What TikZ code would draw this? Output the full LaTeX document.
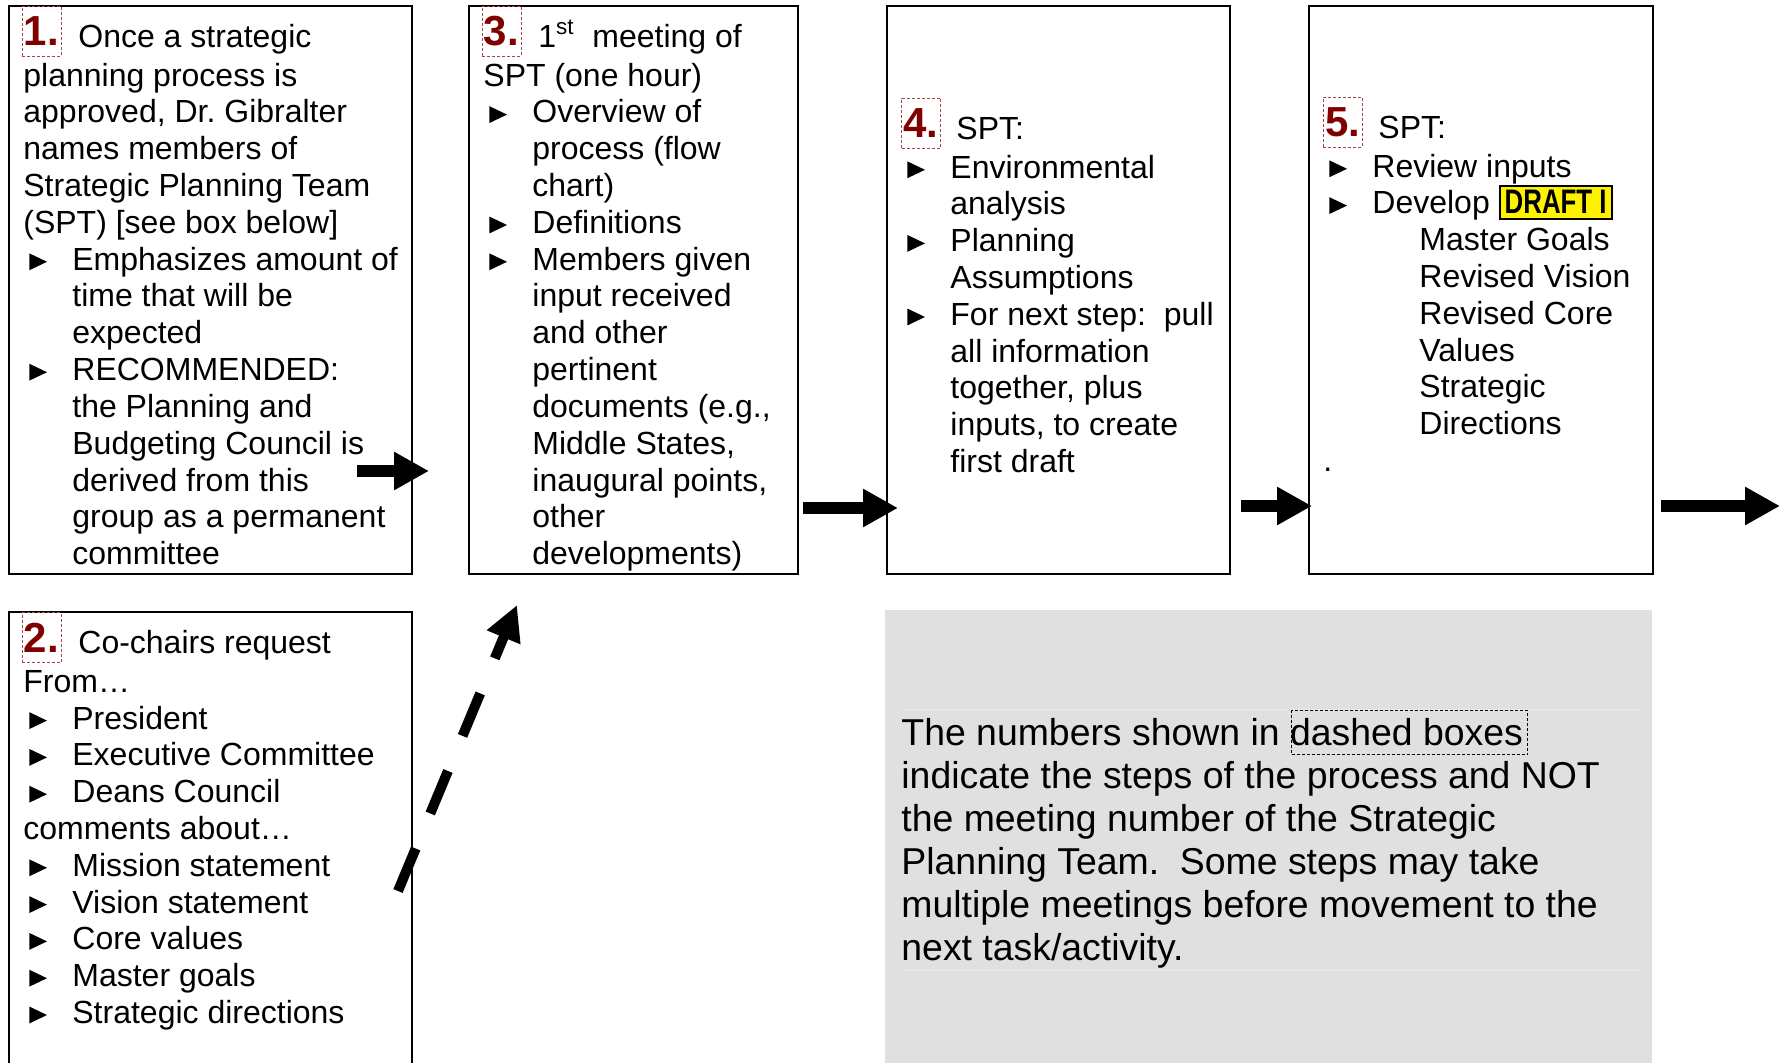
\documentclass[tikz,border=0pt]{standalone}
\usepackage{fontspec}
\usepackage{graphicx}
\setmainfont{Liberation Sans}
\usetikzlibrary{arrows.meta}
\definecolor{numred}{RGB}{128,0,0}
\definecolor{numframe}{RGB}{165,70,70}
\definecolor{graybg}{RGB}{224,224,224}
\definecolor{grayline}{RGB}{234,234,234}
\newcommand\tri{\tikz[baseline=0pt]\fill (0pt,0pt) -- (8.8pt,4.2pt) -- (0pt,8.4pt) -- cycle;}
\newcommand\bl{\makebox[24.5pt][l]{\hspace{3pt}\tri}}
\newcommand\ind{\hspace*{24.5pt}}
\newcommand\subind{\hspace*{48pt}}
\newcommand\lead{\rule{0pt}{14pt}\hspace*{27.5pt}}
\newcommand\draftbox{{\setlength\fboxsep{2pt}\setlength\fboxrule{1pt}\fcolorbox{black}{yellow}{\scalebox{0.76}[1]{\fontsize{17}{17}\selectfont\bfseries DRAFT I}}}}
\frenchspacing
\begin{document}
\begin{tikzpicture}[x=0.5pt,y=-0.5pt,
  box/.style={draw, line width=1pt, inner sep=0pt, anchor=north west},
  txt/.style={anchor=north west, inner sep=0pt, align=left, font=\fontsize{16}{18.4}\selectfont},
  gtxt/.style={anchor=north west, inner sep=0pt, align=left, font=\fontsize{18.7}{21.5}\selectfont},
  numbox/.style={draw=numframe, line width=0.5pt, dash pattern=on 1.5pt off 1pt, inner sep=0pt, minimum width=19.5pt, minimum height=25pt, text=numred, font=\fontsize{21}{21}\selectfont\bfseries},
  blockarrow/.style={line width=6pt, -{Triangle[length=17.5pt,width=18pt]}},
  dasharrow/.style={line width=5pt, dash pattern=on 23pt off 19pt, -{Triangle[length=17.5pt,width=17pt]}}
]
\path[use as bounding box] (0,0) rectangle (1782,1063);
\clip (0,0) rectangle (1782,1063);

% gray note box
\node[fill=graybg, anchor=north west, inner sep=0pt, minimum width=383.5pt, minimum height=260pt] (gbox) at (885,610) {};
\draw[grayline, line width=0.5pt] (902,709) -- (1639,709);
\draw[grayline, line width=0.5pt] (902,970) -- (1639,970);

% boxes
\node[box, minimum width=201.5pt, minimum height=284pt] (b1) at (8,5) {};
\node[box, minimum width=164.5pt, minimum height=284pt] (b3) at (468,5) {};
\node[box, minimum width=171.5pt, minimum height=284pt] (b4) at (886,5) {};
\node[box, minimum width=172pt, minimum height=284pt] (b5) at (1308,5) {};
\node[box, minimum width=201.5pt, minimum height=260pt] (b2) at (8,611) {};

% step numbers
\node[numbox] (n1) at (41.5,31.5) {1.};
\node[numbox] (n3) at (501.5,31.5) {3.};
\node[numbox] (n4) at (921,123.5) {4.};
\node[numbox] (n5) at (1342.5,122.5) {5.};
\node[numbox] (n2) at (41.5,637.5) {2.};

% texts
\node[txt] (t1) at (23,19) {\lead Once a strategic\\[1pt]
planning process is\\
approved, Dr. Gibralter\\
names members of\\
Strategic Planning Team\\
(SPT) [see box below]\\
\bl Emphasizes amount of\\
\ind time that will be\\
\ind expected\\
\bl RECOMMENDED:\\
\ind the Planning and\\
\ind Budgeting Council is\\
\ind derived from this\\
\ind group as a permanent\\
\ind committee};

\node[txt] (t3) at (483,19) {\lead 1\textsuperscript{st} \ meeting of\\[1pt]
SPT (one hour)\\
\bl Overview of\\
\ind process (flow\\
\ind chart)\\
\bl Definitions\\
\bl Members given\\
\ind input received\\
\ind and other\\
\ind pertinent\\
\ind documents (e.g.,\\
\ind Middle States,\\
\ind inaugural points,\\
\ind other\\
\ind developments)};

\node[txt] (t4) at (901,111) {\lead SPT:\\[1pt]
\bl Environmental\\
\ind analysis\\
\bl Planning\\
\ind Assumptions\\
\bl For next step: \ pull\\
\ind all information\\
\ind together, plus\\
\ind inputs, to create\\
\ind first draft};

\node[txt] (t5) at (1323,110) {\lead SPT:\\[1pt]
\bl Review inputs\\
\bl Develop \draftbox\\
\subind Master Goals\\
\subind Revised Vision\\
\subind Revised Core\\
\subind Values\\
\subind Strategic\\
\subind Directions\\
.};

\node[txt] (t2) at (23,625) {\lead Co-chairs request\\[1pt]
From…\\
\bl President\\
\bl Executive Committee\\
\bl Deans Council\\
comments about…\\
\bl Mission statement\\
\bl Vision statement\\
\bl Core values\\
\bl Master goals\\
\bl Strategic directions};

\node[gtxt] (tg) at (901,713) {\rule{0pt}{16pt}The numbers shown in dashed boxes\\
indicate the steps of the process and NOT\\
the meeting number of the Strategic\\
Planning Team. \ Some steps may take\\
multiple meetings before movement to the\\
next task/activity.};
\node[draw, line width=0.5pt, dash pattern=on 1.5pt off 1pt, anchor=north west, inner sep=0pt, minimum width=118pt, minimum height=22pt] (dbx) at (1291,710) {};

% arrows
\coordinate (a1s) at (357,471);
\coordinate (a1e) at (429,471);
\coordinate (a2s) at (803,508);
\coordinate (a2e) at (898,508);
\coordinate (a3s) at (1241,506);
\coordinate (a3e) at (1312,506);
\coordinate (a4s) at (1661,506);
\coordinate (a4e) at (1780,506);
\coordinate (d1s) at (398,891);
\coordinate (d1e) at (517,605);
\draw[blockarrow] (a1s) -- (a1e);
\draw[blockarrow] (a2s) -- (a2e);
\draw[blockarrow] (a3s) -- (a3e);
\draw[blockarrow] (a4s) -- (a4e);
\draw[dasharrow] (d1s) -- (d1e);
\end{tikzpicture}
\end{document}
